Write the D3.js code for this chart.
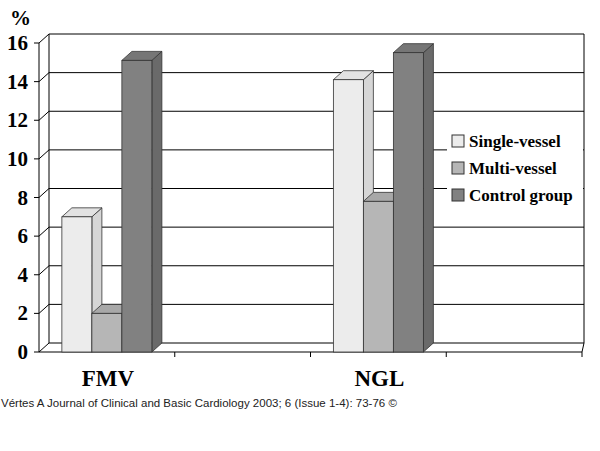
<!DOCTYPE html>
<html><head><meta charset="utf-8">
<script src="https://cdn.jsdelivr.net/npm/d3@7"></script>
<style>body{margin:0;background:#fff} .sf{font-family:"Liberation Serif","Times New Roman",Tinos,"DejaVu Serif",serif;font-weight:bold}</style></head>
<body><svg width="600" height="451"></svg>
<script>
var categories = ["FMV", "", "NGL", " "];
var seriesNames = ["Single-vessel", "Multi-vessel", "Control group"];
var singleVessel = [7, null, 14.1, null];
var multiVessel = [2, null, 7.8, null];
var controlGroup = [15.1, null, 15.5, null];
var yTicks = [0, 2, 4, 6, 8, 10, 12, 14, 16];

var fronts = ["#ececec", "#b6b6b6", "#818181"];
var sides = ["#d6d6d6", "#a0a0a0", "#6a6a6a"];
var tops = ["#e2e2e2", "#a8a8a8", "#767676"];

var svg = d3.select("svg");
var dx = 10, dy = -9;
var x = d3.scaleBand().domain(categories).range([39, 582]);
var y = d3.scaleLinear().domain([0, 16]).range([352, 43]);
var inner = d3.scaleBand().domain(seriesNames).range([0, 90]);

// back wall + grid
yTicks.forEach(function(t) {
  svg.append("line").attr("x1", 39).attr("x2", 39 + dx).attr("y1", y(t)).attr("y2", y(t) + dy).attr("stroke", "#000");
  svg.append("line").attr("x1", 39 + dx).attr("x2", 584).attr("y1", y(t) + dy).attr("y2", y(t) + dy).attr("stroke", "#000");
  svg.append("line").attr("x1", 34).attr("x2", 39).attr("y1", y(t)).attr("y2", y(t)).attr("stroke", "#000");
  svg.append("text").attr("class", "sf").attr("x", 28).attr("y", y(t) + 7).attr("text-anchor", "end")
    .attr("font-size", 21).text(t);
});
svg.append("line").attr("x1", 39 + dx).attr("x2", 39 + dx).attr("y1", y(16) + dy).attr("y2", y(0) + dy).attr("stroke", "#000");
svg.append("line").attr("x1", 584).attr("x2", 584).attr("y1", y(16) + dy).attr("y2", y(0) + dy).attr("stroke", "#000");
svg.append("line").attr("x1", 39).attr("x2", 39).attr("y1", y(16)).attr("y2", y(0)).attr("stroke", "#000");
svg.append("line").attr("x1", 39).attr("x2", 582).attr("y1", y(0)).attr("y2", y(0)).attr("stroke", "#000");
svg.append("line").attr("x1", 582).attr("x2", 584).attr("y1", y(0)).attr("y2", y(0) + dy).attr("stroke", "#000");
categories.forEach(function(c) {
  var xe = x(c) + x.bandwidth();
  svg.append("line").attr("x1", xe).attr("x2", xe).attr("y1", y(0)).attr("y2", y(0) + 5).attr("stroke", "#000");
  svg.append("text").attr("class", "sf").attr("x", x(c) + x.bandwidth() / 2 + 1).attr("y", 386).attr("text-anchor", "middle")
    .attr("font-size", 23).text(c.trim());
});
svg.append("text").attr("class", "sf").attr("x", 10).attr("y", 25).attr("font-size", 21).text("%");

// bars
var series = [singleVessel, multiVessel, controlGroup];
categories.forEach(function(c, ci) {
  series.forEach(function(s, si) {
    var v = s[ci];
    if (v == null) return;
    var bw = inner.bandwidth();
    var x0 = x(c) + (x.bandwidth() - 90) / 2 + inner(seriesNames[si]);
    var y0 = y(v), yb = y(0);
    var g = svg.append("g").attr("stroke", "#333").attr("stroke-width", 0.8);
    g.append("path").attr("fill", sides[si])
      .attr("d", "M" + (x0 + bw) + "," + yb + "L" + (x0 + bw) + "," + y0 + "L" + (x0 + bw + dx) + "," + (y0 + dy) + "L" + (x0 + bw + dx) + "," + (yb + dy) + "Z");
    g.append("path").attr("fill", tops[si])
      .attr("d", "M" + x0 + "," + y0 + "L" + (x0 + dx) + "," + (y0 + dy) + "L" + (x0 + bw + dx) + "," + (y0 + dy) + "L" + (x0 + bw) + "," + y0 + "Z");
    g.append("rect").attr("x", x0).attr("y", y0).attr("width", bw).attr("height", yb - y0).attr("fill", fronts[si]);
  });
});

// legend
var lg = svg.append("g");
lg.append("rect").attr("x", 447).attr("y", 128).attr("width", 136).attr("height", 82).attr("fill", "#fff");
seriesNames.forEach(function(n, i) {
  var ly = 135 + i * 27;
  lg.append("rect").attr("x", 452).attr("y", ly).attr("width", 12).attr("height", 12)
    .attr("fill", fronts[i]).attr("stroke", "#333");
  lg.append("text").attr("class", "sf").attr("x", 469).attr("y", ly + 12).attr("font-size", 17).text(n);
});

svg.append("text").attr("x", 1).attr("y", 407).attr("font-family", "'Liberation Sans',Arial,sans-serif")
  .attr("font-size", 11.5).attr("fill", "#222").text("Vértes A Journal of Clinical and Basic Cardiology 2003; 6 (Issue 1-4): 73-76 ©");
</script></body></html>
